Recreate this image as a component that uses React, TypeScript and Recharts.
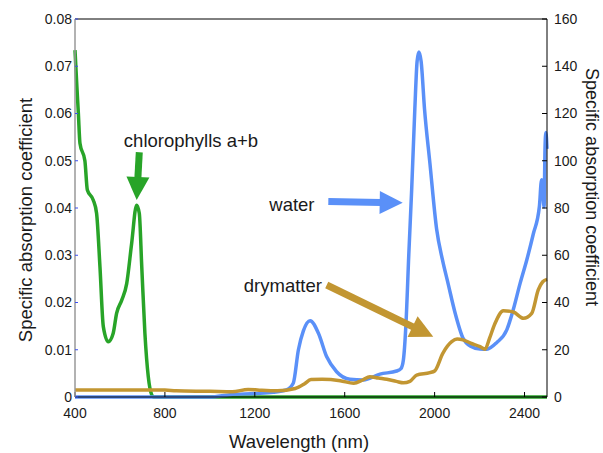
import {
  LineChart,
  Line,
  XAxis,
  YAxis,
  ReferenceLine,
  ReferenceDot,
} from 'recharts';

// wavelengths (nm) and specific absorption values
const chlWl = [400, 408, 415, 422, 444, 455, 481, 496, 511, 526, 548, 570, 585, 608, 630, 652, 674, 686, 697, 711, 726, 741, 750, 1500, 2500];
const chlVal = [0.0734, 0.066, 0.06, 0.0537, 0.05, 0.0438, 0.0417, 0.0389, 0.0276, 0.0149, 0.0117, 0.0135, 0.0177, 0.0205, 0.024, 0.0325, 0.0406, 0.0389, 0.0276, 0.0135, 0.0043, 0.0005, 0, 0, 0];

const waterWl = [400, 1000, 1090, 1200, 1281, 1340, 1371, 1394, 1416, 1446, 1483, 1520, 1564, 1623, 1683, 1757, 1831, 1850, 1861, 1872, 1885, 1898, 1912, 1922, 1930, 1940, 1955, 1979, 2009, 2035, 2060, 2090, 2126, 2160, 2202, 2232, 2276, 2321, 2350, 2380, 2410, 2439, 2466, 2476, 2482, 2487, 2491, 2495, 2500];
const waterVal = [0, 0, 1, 1.5, 2, 3, 5.8, 20, 28, 32.3, 27, 17, 10.7, 7.5, 7.2, 9.7, 11, 12, 15.7, 30, 60, 88, 122, 142, 146, 142, 122, 99, 71, 58, 48, 36, 25, 21.5, 20.3, 20.2, 23, 28.4, 37, 48, 58, 69, 80.5, 92, 86, 80.5, 104.5, 112, 105];

const dryWl = [400, 800, 850, 1000, 1100, 1170, 1220, 1300, 1380, 1420, 1450, 1500, 1580, 1640, 1680, 1712, 1750, 1787, 1830, 1861, 1890, 1920, 1979, 2000, 2037, 2076, 2100, 2126, 2160, 2202, 2224, 2245, 2268, 2306, 2350, 2395, 2432, 2461, 2481, 2500];
const dryVal = [3.0, 3.0, 2.6, 2.4, 2.2, 3.2, 2.9, 2.6, 3.6, 5.5, 7.4, 7.5, 6.9, 5.8, 7.2, 8.6, 8.0, 7.5, 6.6, 6.0, 6.6, 9.3, 10.3, 11, 18.6, 23.4, 24.5, 24.2, 22.8, 21.3, 20.2, 25, 31, 36.5, 36, 33.3, 35.4, 45.3, 48.8, 49.8];

const xTicks = [400, 800, 1200, 1600, 2000, 2400];
const leftTicks = [0, 0.01, 0.02, 0.03, 0.04, 0.05, 0.06, 0.07, 0.08];
const rightTicks = [0, 20, 40, 60, 80, 100, 120, 140, 160];

// annotation anchors in data units: [nm, value]
const chlText = [916, 0.0544];
const chlArrow = [[686, 0.0518], [674.5, 0.0417]];
const waterText = [1365, 81.3];
const waterArrow = [[1527, 82.7], [1858, 82.2]];
const dryText = [1325, 47.4];
const dryArrow = [[1520, 47.4], [1994, 25.5]];

const GREEN = '#28a428';
const BLUE = '#5a90f8';
const BROWN = '#c29632';
const INK = '#1a1a1a';
const FONT = '"Liberation Sans", Arial, sans-serif';

const toRows = (wl: number[], vals: number[]) => wl.map((nm, i) => ({ nm, v: vals[i] }));
const chlData = toRows(chlWl, chlVal);
const waterData = toRows(waterWl, waterVal);
const dryData = toRows(dryWl, dryVal);

const arrowShape = (color: string) => (p: any) => {
  const { x1, y1, x2, y2 } = p;
  const dx = x2 - x1;
  const dy = y2 - y1;
  const len = Math.hypot(dx, dy) || 1;
  const ux = dx / len;
  const uy = dy / len;
  const nx = -uy;
  const ny = ux;
  const headLen = 23;
  const headW = 23;
  const bx = x2 - ux * headLen;
  const by = y2 - uy * headLen;
  return (
    <g>
      <line x1={x1} y1={y1} x2={bx + ux} y2={by + uy} stroke={color} strokeWidth={7} />
      <polygon
        points={`${x2},${y2} ${bx + (nx * headW) / 2},${by + (ny * headW) / 2} ${bx - (nx * headW) / 2},${by - (ny * headW) / 2}`}
        fill={color}
      />
    </g>
  );
};

const textLabel = (value: string) => ({
  value,
  position: 'center' as const,
  fill: INK,
  fontSize: 18.5,
  fontFamily: FONT,
});

const axisTitle = (text: string, dx: number, dy: number, angle: number, size = 18.5) => (props: any) => {
  const vb = props.viewBox;
  const cx = vb.x + dx;
  const cy = vb.y + dy;
  return (
    <text
      x={cx}
      y={cy}
      transform={angle ? `rotate(${angle} ${cx} ${cy})` : undefined}
      textAnchor="middle"
      dominantBaseline="central"
      fill={INK}
      fontSize={size}
      fontFamily={FONT}
    >
      {text}
    </text>
  );
};

export default function App() {
  return (
    <div style={{ position: 'absolute', left: 0, top: 0, background: '#fff' }}>
      <LineChart
        width={603}
        height={453}
        margin={{ top: 18, right: 0, left: 0, bottom: 0 }}
      >
        <XAxis
          xAxisId="top"
          orientation="top"
          type="number"
          dataKey="nm"
          domain={[400, 2500]}
          ticks={xTicks}
          tick={false}
          height={1}
          tickSize={-5}
          axisLine={{ stroke: '#000', strokeWidth: 1 }}
          tickLine={{ stroke: '#000' }}
        />
        <XAxis
          xAxisId="bottom"
          type="number"
          dataKey="nm"
          domain={[400, 2500]}
          ticks={xTicks}
          height={56}
          tickSize={-5}
          tickMargin={16}
          axisLine={{ stroke: '#000' }}
          tickLine={{ stroke: '#000' }}
          tick={{ fill: INK, fontSize: 14, fontFamily: FONT }}
          label={axisTitle('Wavelength (nm)', 224, 44, 0)}
        />
        <YAxis
          yAxisId="left"
          type="number"
          domain={[0, 0.08]}
          ticks={leftTicks}
          width={75}
          tickSize={-3}
          tickMargin={6}
          axisLine={{ stroke: '#999', strokeWidth: 1.5 }}
          tickLine={{ stroke: '#3a4ff0' }}
          tickFormatter={(v: number) => (v === 0 ? '0' : v.toFixed(2))}
          tick={{ fill: INK, fontSize: 14, fontFamily: FONT }}
          label={axisTitle('Specific absorption coefficient', 25, 201, -90)}
        />
        <YAxis
          yAxisId="right"
          orientation="right"
          type="number"
          domain={[0, 160]}
          ticks={rightTicks}
          width={56}
          tickSize={-5}
          tickMargin={12}
          axisLine={{ stroke: '#000' }}
          tickLine={{ stroke: '#000' }}
          tick={{ fill: INK, fontSize: 14, fontFamily: FONT }}
          label={axisTitle('Specific absorption coefficient', 45, 168, 90, 18)}
        />
        <Line
          data={chlData}
          xAxisId="bottom"
          yAxisId="left"
          dataKey="v"
          type="monotone"
          stroke={GREEN}
          strokeWidth={3.5}
          dot={false}
          activeDot={false}
          isAnimationActive={false}
        />
        <Line
          data={waterData}
          xAxisId="bottom"
          yAxisId="right"
          dataKey="v"
          type="monotone"
          stroke={BLUE}
          strokeWidth={3.5}
          dot={false}
          activeDot={false}
          isAnimationActive={false}
        />
        <Line
          data={dryData}
          xAxisId="bottom"
          yAxisId="right"
          dataKey="v"
          type="monotone"
          stroke={BROWN}
          strokeWidth={3.5}
          dot={false}
          activeDot={false}
          isAnimationActive={false}
        />
        <ReferenceLine
          xAxisId="bottom"
          yAxisId="left"
          segment={[{ x: chlArrow[0][0], y: chlArrow[0][1] }, { x: chlArrow[1][0], y: chlArrow[1][1] }]}
          shape={arrowShape(GREEN)}
        />
        <ReferenceLine
          xAxisId="bottom"
          yAxisId="right"
          segment={[{ x: waterArrow[0][0], y: waterArrow[0][1] }, { x: waterArrow[1][0], y: waterArrow[1][1] }]}
          shape={arrowShape(BLUE)}
        />
        <ReferenceLine
          xAxisId="bottom"
          yAxisId="right"
          segment={[{ x: dryArrow[0][0], y: dryArrow[0][1] }, { x: dryArrow[1][0], y: dryArrow[1][1] }]}
          shape={arrowShape(BROWN)}
        />
        <ReferenceDot xAxisId="bottom" yAxisId="left" x={chlText[0]} y={chlText[1]} r={0} stroke="none" label={textLabel('chlorophylls a+b')} />
        <ReferenceDot xAxisId="bottom" yAxisId="right" x={waterText[0]} y={waterText[1]} r={0} stroke="none" label={textLabel('water')} />
        <ReferenceDot xAxisId="bottom" yAxisId="right" x={dryText[0]} y={dryText[1]} r={0} stroke="none" label={textLabel('drymatter')} />
      </LineChart>
    </div>
  );
}
